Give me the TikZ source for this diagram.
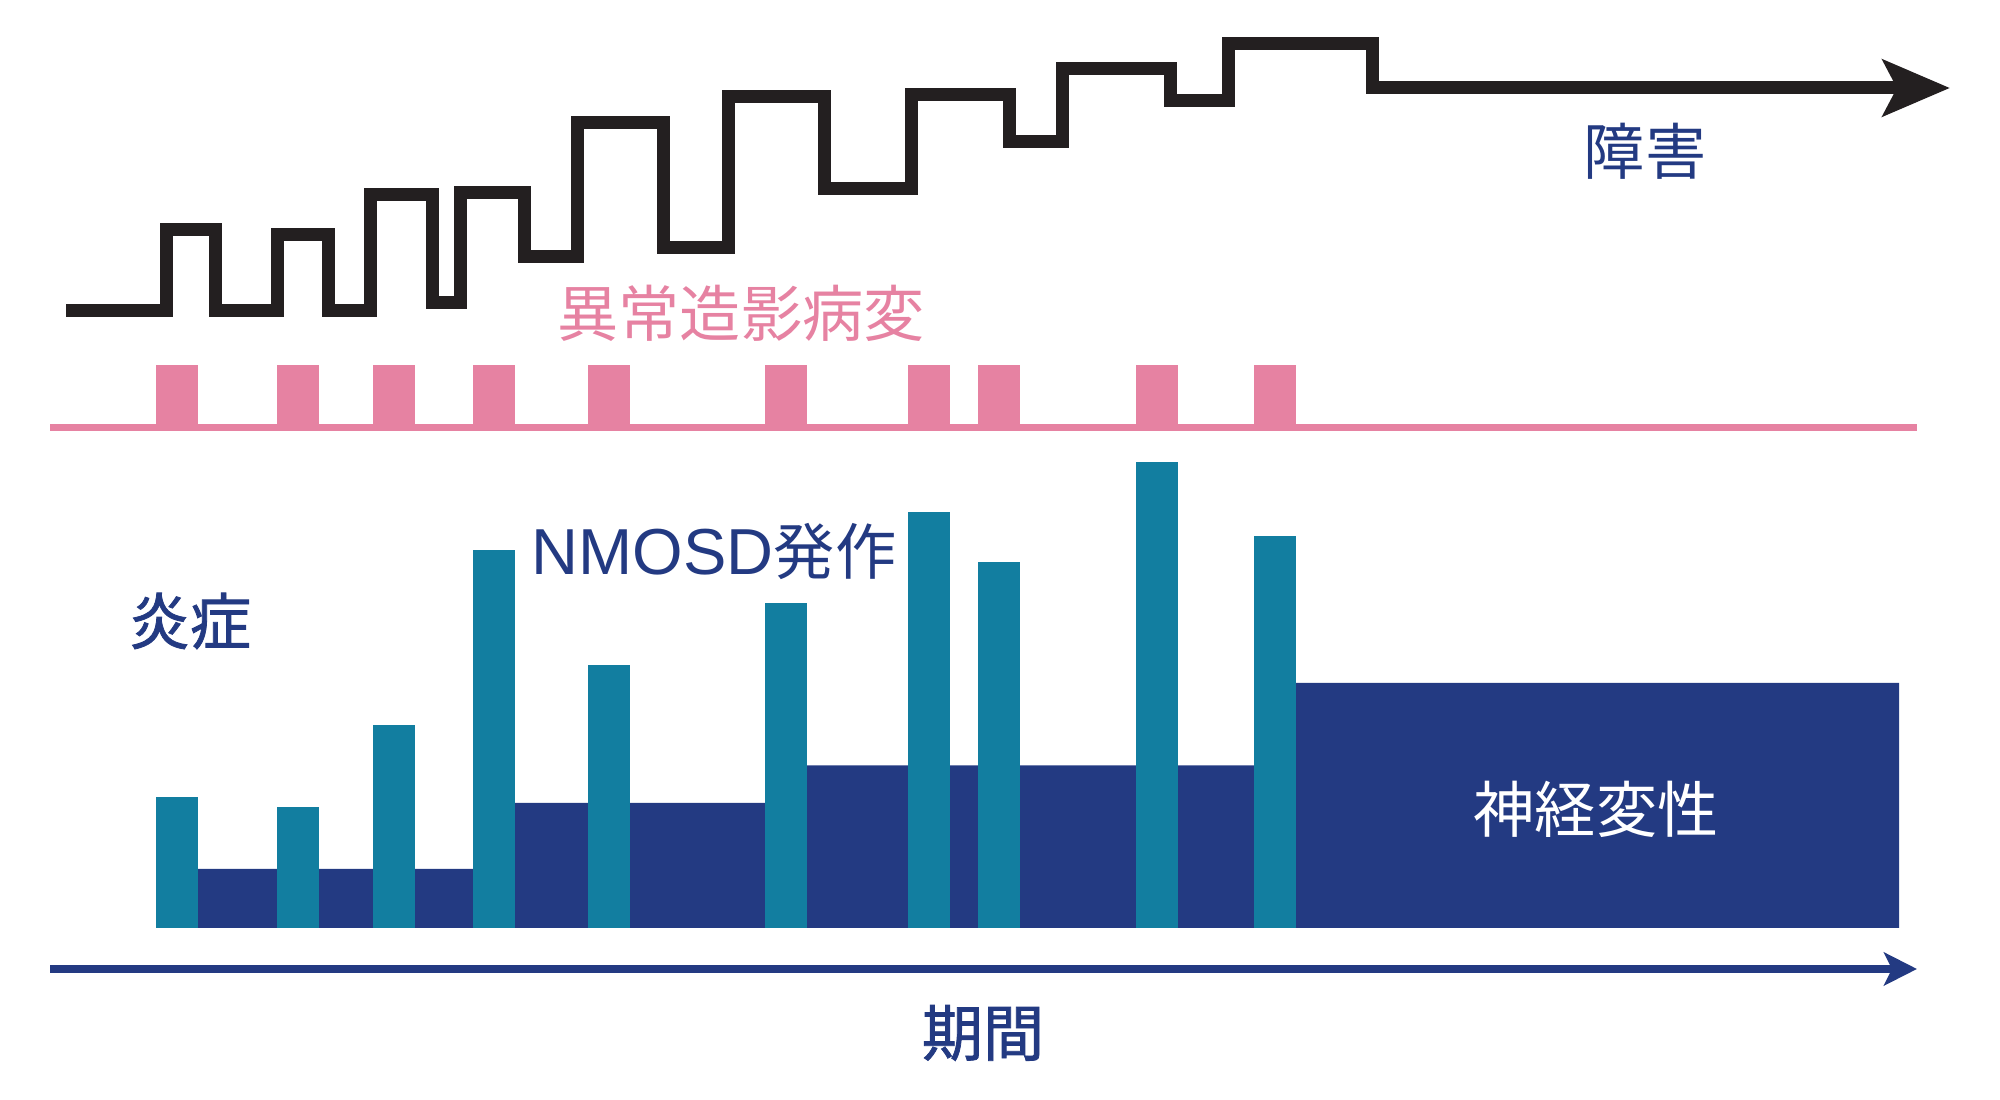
\documentclass[tikz,border=0pt]{standalone}
\usepackage{fontspec}
\setmainfont{Noto Sans CJK JP}
\newfontfamily\heavyfont[FakeBold=1.3]{Noto Sans CJK JP}
\newfontfamily\latinfont{Liberation Sans}
\usetikzlibrary{arrows.meta}
\definecolor{ink}{RGB}{35, 31, 32}
\definecolor{rose}{RGB}{230, 130, 162}
\definecolor{flare}{RGB}{18, 126, 160}
\definecolor{navy}{RGB}{35, 58, 130}

\begin{document}
\begin{tikzpicture}[x=0.1mm, y=-0.1mm,
    label/.style={inner sep=0, font=\fontsize{17.4pt}{20pt}\selectfont}]
  \useasboundingbox (0, 0) rectangle (2000, 1100);

  % disability staircase
  \coordinate (s0) at (66, 311);
  \coordinate (s1) at (1950, 88);
  \draw[ink, line width=1.3mm, -{Stealth[length=6.7mm, width=5.6mm, inset=1.4mm]}]
    (s0) -- (166, 311) -- (166, 230) -- (215, 230) -- (215, 311)
    -- (277, 311) -- (277, 235) -- (328, 235) -- (328, 311)
    -- (370, 311) -- (370, 195) -- (432, 195) -- (432, 303)
    -- (460, 303) -- (460, 193) -- (524, 193) -- (524, 257)
    -- (577, 257) -- (577, 123) -- (663, 123) -- (663, 248)
    -- (728, 248) -- (728, 97) -- (824, 97) -- (824, 189)
    -- (911, 189) -- (911, 95) -- (1009, 95) -- (1009, 142)
    -- (1062, 142) -- (1062, 69) -- (1170, 69) -- (1170, 101)
    -- (1228, 101) -- (1228, 44) -- (1372, 44) -- (1372, 88) -- (s1);
  \node[label, navy] (dmg) at (1645, 151) {障害};

  % lesions
  \coordinate (p0) at (50, 427.5);
  \coordinate (p1) at (1917, 427.5);
  \draw[rose, line width=0.7mm] (p0) -- (p1);
  \node[label, rose] (lesion) at (741, 313) {異常造影病変};

  % neurodegeneration
  \fill[navy] (198, 928) -- (198, 869) -- (494, 869) -- (494, 803)
    -- (786, 803) -- (786, 765.5) -- (1275, 765.5) -- (1275, 683)
    -- (1899, 683) -- (1899, 928) -- cycle;

  \foreach \x/\h in {156/797, 277/807, 373/725, 473/550.5, 588/665,
                     765/603, 908/512.5, 978/561.6, 1136/461.6, 1254/536} {
    \fill[rose] (\x, 365) rectangle (\x + 42, 427.5);
    \fill[flare] (\x, \h) rectangle (\x + 42, 928);
  }

  \node[label, navy, font=\fontsize{17.4pt}{20pt}\heavyfont] (inflam) at (190, 621) {炎症};
  \node[label, navy] (attack) at (714, 552)
    {{\fontsize{18.5pt}{20pt}\latinfont NMOSD}発作};
  \node[label, white] (neuro) at (1596, 809) {神経変性};

  % time axis
  \coordinate (t0) at (50, 969);
  \coordinate (t1) at (1917, 969);
  \draw[navy, line width=0.85mm, -{Stealth[length=3.3mm, width=3.3mm, inset=0.8mm]}]
    (t0) -- (t1);
  \node[label, navy, font=\fontsize{17.4pt}{20pt}\heavyfont] (period) at (983, 1033) {期間};
\end{tikzpicture}
\end{document}
